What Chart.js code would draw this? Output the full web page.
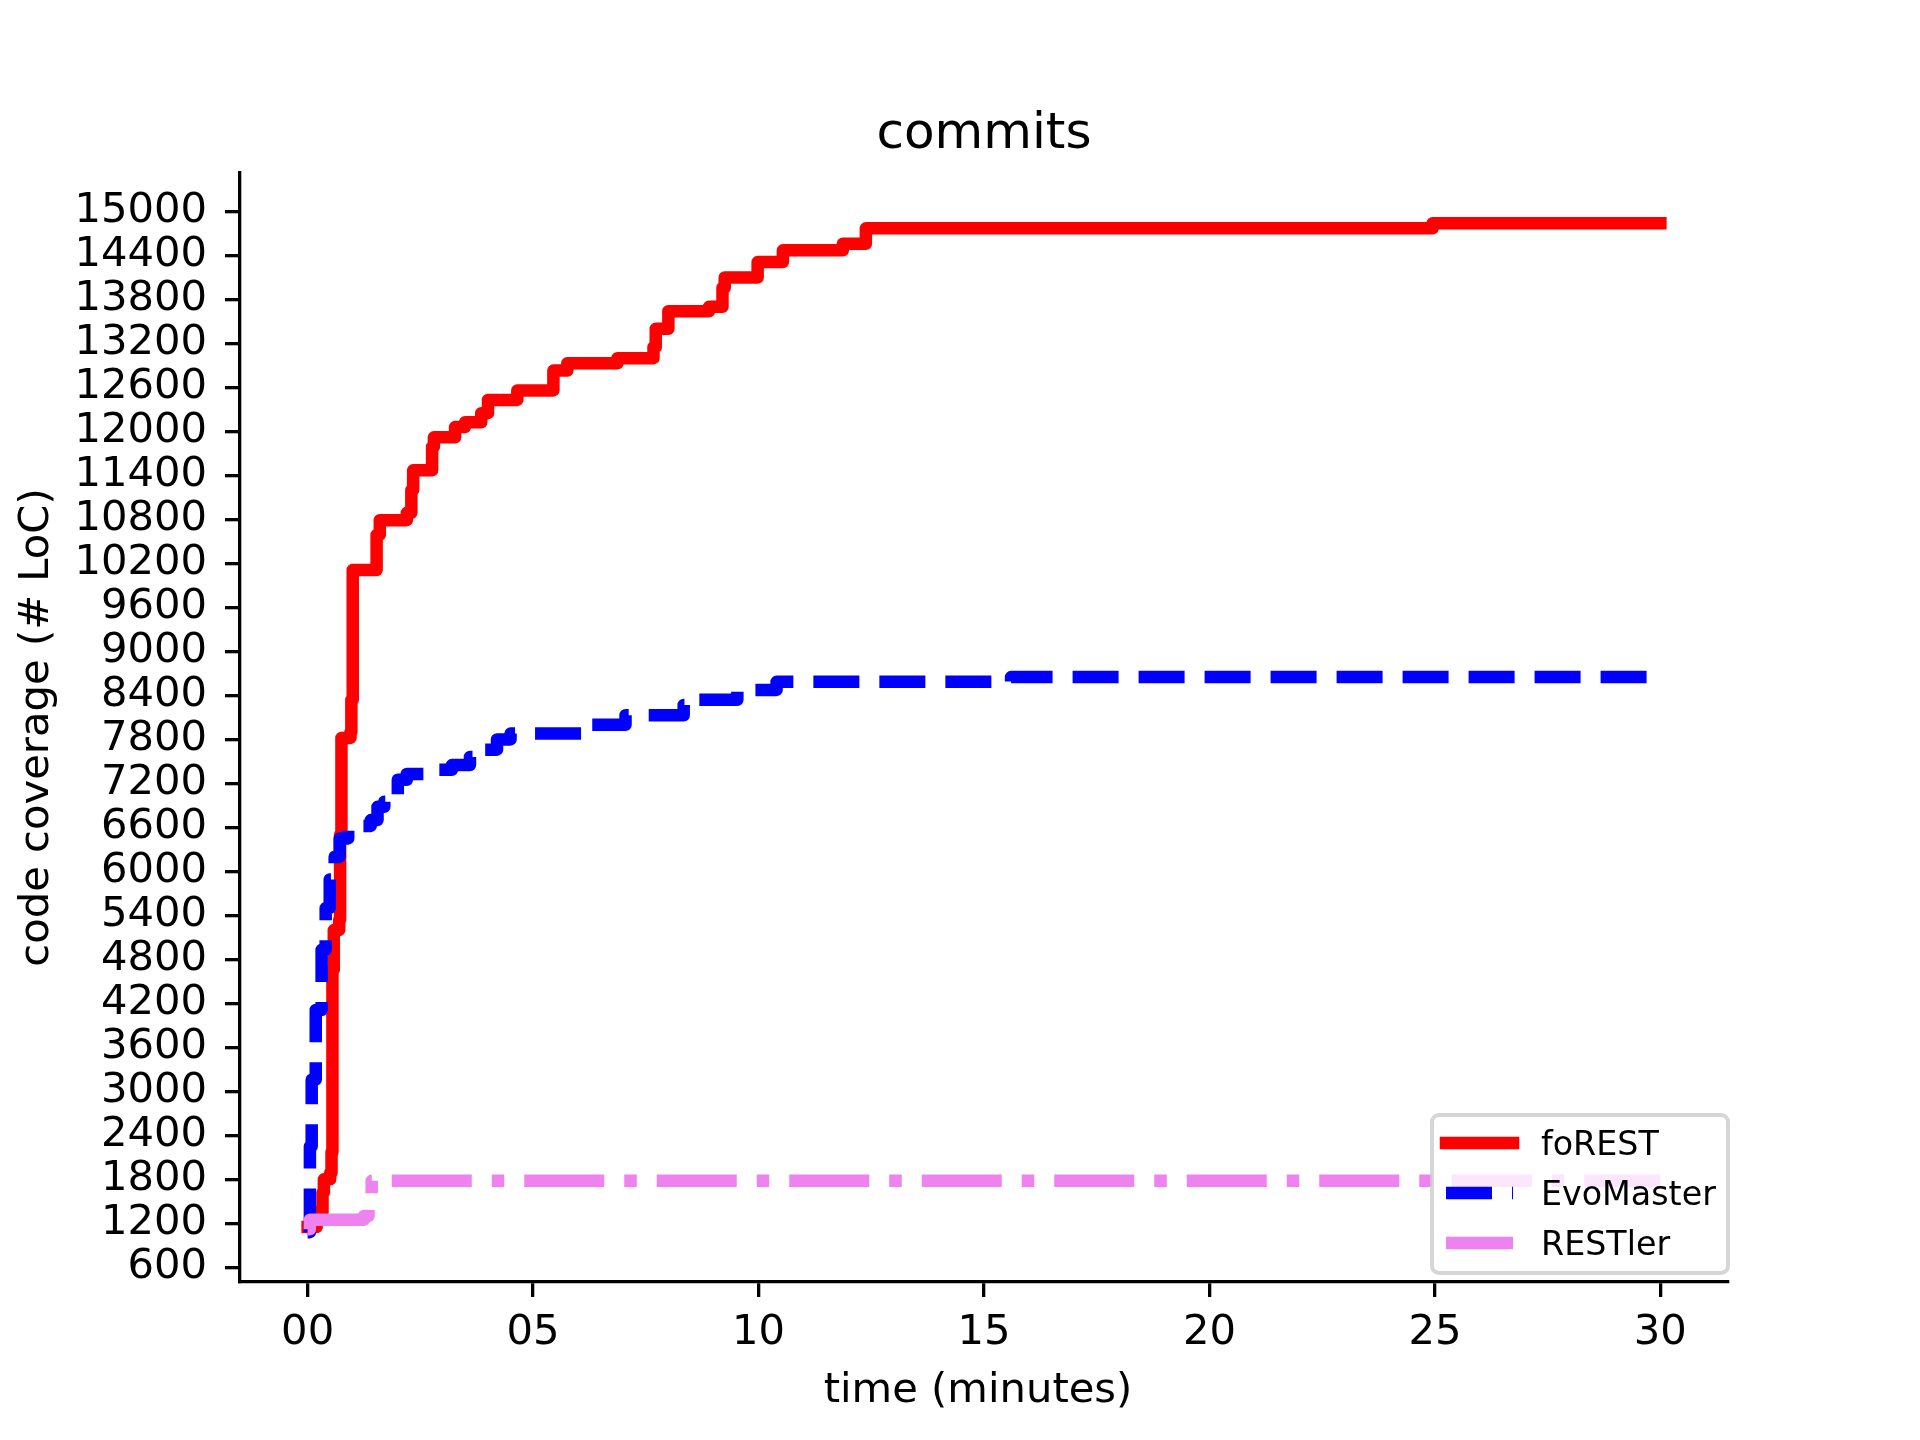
<!DOCTYPE html>
<html>
<head>
<meta charset="utf-8">
<script src="https://cdn.jsdelivr.net/npm/chart.js@4.4.1/dist/chart.umd.min.js"></script>
<style>
  body { margin: 0; background: #fff; }
  canvas { display: block; }
</style>
</head>
<body>
<canvas id="myChart" width="1920" height="1440"></canvas>
<script>
// series names and titles
var chartTitle = 'commits';
var xTitle = 'time (minutes)';
var yTitle = 'code coverage (# LoC)';
var seriesNames = ['foREST', 'EvoMaster', 'RESTler'];

// foREST (minutes, LoC)
var forestT = [0, 0.2, 0.33, 0.36, 0.5, 0.53, 0.55, 0.58, 0.7, 0.72, 0.75, 0.95, 0.97, 1.0,
    1.53, 1.6, 2.2, 2.3, 2.34, 2.76, 2.8, 3.27, 3.49, 3.85, 4.0, 4.65, 5.45, 5.76, 6.87,
    7.67, 7.72, 8.0, 8.9, 9.2, 9.25, 9.98, 10.54, 11.87, 12.38, 24.95, 30];
var forestV = [1150, 1350, 1620, 1800, 1890, 2170, 4660, 5200, 5340, 6500, 7820, 7900, 8340, 10110,
    10590, 10790, 10890, 11200, 11470, 11790, 11920, 12060, 12125, 12250, 12430, 12560, 12830, 12930, 13000,
    13150, 13400, 13640, 13700, 13960, 14100, 14310, 14470, 14560, 14770, 14840, 14840];

// EvoMaster
var evoT = [0, 0.05, 0.09, 0.18, 0.31, 0.4, 0.49, 0.6, 0.71, 0.9, 1.1, 1.4, 1.55, 1.7, 2.0,
    2.2, 2.9, 3.2, 3.6, 3.9, 4.2, 4.5, 6.16, 7.05, 8.34, 8.53, 9.53, 10.4, 15.6, 30];
var evoV = [1080, 2250, 3160, 4110, 4930, 5500, 5890, 6200, 6450, 6580, 6620, 6700, 6880, 6950, 7250,
    7330, 7385, 7450, 7560, 7660, 7800, 7880, 8000, 8130, 8270, 8340, 8475, 8585, 8650, 8650];

// RESTler
var restlerT = [0, 0.05, 1.25, 1.35, 1.42, 30];
var restlerV = [1120, 1250, 1300, 1500, 1780, 1780];

// ticks
var xTickValues = [0, 5, 10, 15, 20, 25, 30];
var xTickLabels = ['00', '05', '10', '15', '20', '25', '30'];
var yTickValues = [600, 1200, 1800, 2400, 3000, 3600, 4200, 4800, 5400, 6000, 6600, 7200, 7800,
    8400, 9000, 9600, 10200, 10800, 11400, 12000, 12600, 13200, 13800, 14400, 15000];

function points(ts, vs) {
    return ts.map(function (t, i) { return { x: t, y: vs[i] }; });
}

var FONT = 'DejaVu Sans';

// title, x label and legend drawn over the plot, matplotlib style
var figureText = {
    id: 'figureText',
    afterDraw: function (chart) {
        var ctx = chart.ctx;
        var area = chart.chartArea;
        ctx.save();
        ctx.fillStyle = '#000';
        ctx.font = '50px "' + FONT + '"';
        ctx.textAlign = 'center';
        ctx.textBaseline = 'alphabetic';
        ctx.fillText(chartTitle, (area.left + area.right) / 2, area.top - 25);

        ctx.font = '41.7px "' + FONT + '"';
        ctx.fillText(xTitle, (area.left + area.right) / 2 - 6, 1402);

        // legend frame
        var bx = 1432, by = 1115, bw = 296, bh = 158, r = 7;
        ctx.beginPath();
        ctx.moveTo(bx + r, by);
        ctx.arcTo(bx + bw, by, bx + bw, by + bh, r);
        ctx.arcTo(bx + bw, by + bh, bx, by + bh, r);
        ctx.arcTo(bx, by + bh, bx, by, r);
        ctx.arcTo(bx, by, bx + bw, by, r);
        ctx.closePath();
        ctx.fillStyle = 'rgba(255,255,255,0.8)';
        ctx.fill();
        ctx.strokeStyle = 'rgba(204,204,204,0.8)';
        ctx.lineWidth = 4;
        ctx.stroke();

        var sets = chart.data.datasets;
        var rows = [1143, 1193, 1243];
        ctx.font = '33.3px "' + FONT + '"';
        ctx.textAlign = 'left';
        sets.forEach(function (ds, i) {
            var y = rows[i];
            ctx.beginPath();
            ctx.setLineDash(ds.borderDash || []);
            ctx.lineCap = ds.borderCapStyle;
            ctx.strokeStyle = ds.borderColor;
            ctx.lineWidth = ds.borderWidth;
            ctx.moveTo(1446, y);
            ctx.lineTo(1513, y);
            ctx.stroke();
            ctx.setLineDash([]);
            ctx.fillStyle = '#000';
            ctx.fillText(ds.label, 1541, y + 12.2);
        });
        ctx.restore();
    }
};

var ctx = document.getElementById('myChart').getContext('2d');
var chart = new Chart(ctx, {
    type: 'line',
    data: {
        datasets: [{
            label: seriesNames[0],
            data: points(forestT, forestV),
            borderColor: '#ff0000',
            borderWidth: 12.5,
            borderCapStyle: 'square',
            borderJoinStyle: 'round',
            stepped: true,
            pointRadius: 0,
            fill: false,
            order: 2
        }, {
            label: seriesNames[1],
            data: points(evoT, evoV),
            borderColor: '#0000ff',
            borderWidth: 12.5,
            borderDash: [46, 20],
            borderCapStyle: 'butt',
            borderJoinStyle: 'round',
            stepped: true,
            pointRadius: 0,
            fill: false,
            order: 1
        }, {
            label: seriesNames[2],
            data: points(restlerT, restlerV),
            borderColor: '#ee82ee',
            borderWidth: 12.5,
            borderDash: [80, 20, 12.5, 20],
            borderCapStyle: 'butt',
            borderJoinStyle: 'round',
            stepped: true,
            pointRadius: 0,
            fill: false,
            order: 0
        }]
    },
    options: {
        responsive: false,
        devicePixelRatio: 1,
        animation: false,
        layout: { padding: { top: 173, right: 192, left: 0, bottom: 0 } },
        plugins: {
            legend: { display: false },
            tooltip: { enabled: false },
            title: { display: false }
        },
        scales: {
            x: {
                type: 'linear',
                position: 'bottom',
                min: -1.5,
                max: 31.5,
                bounds: 'data',
                afterFit: function (s) { s.height = 158; },
                afterBuildTicks: function (s) {
                    s.ticks = xTickValues.map(function (v) { return { value: v }; });
                },
                grid: { drawOnChartArea: false, drawTicks: true, tickLength: 15, color: '#000', lineWidth: 3.3 },
                border: { display: true, color: '#000', width: 3.3 },
                ticks: {
                    autoSkip: false,
                    maxRotation: 0,
                    padding: 11,
                    color: '#000',
                    font: { family: FONT, size: 41.7 },
                    callback: function (v) { return xTickLabels[xTickValues.indexOf(v)]; }
                }
            },
            y: {
                type: 'linear',
                position: 'left',
                min: 400,
                max: 15525,
                bounds: 'data',
                afterFit: function (s) { s.width = 240; },
                afterBuildTicks: function (s) {
                    s.ticks = yTickValues.map(function (v) { return { value: v }; });
                },
                grid: { drawOnChartArea: false, drawTicks: true, tickLength: 15, color: '#000', lineWidth: 3.3 },
                border: { display: true, color: '#000', width: 3.3 },
                ticks: {
                    autoSkip: false,
                    padding: 18,
                    color: '#000',
                    font: { family: FONT, size: 41.7 },
                    callback: function (v) { return String(v); }
                },
                title: {
                    display: true,
                    text: yTitle,
                    color: '#000',
                    font: { family: FONT, size: 41.7 },
                    padding: { top: 12, bottom: 0 }
                }
            }
        }
    },
    plugins: [figureText]
});
</script>
</body>
</html>
